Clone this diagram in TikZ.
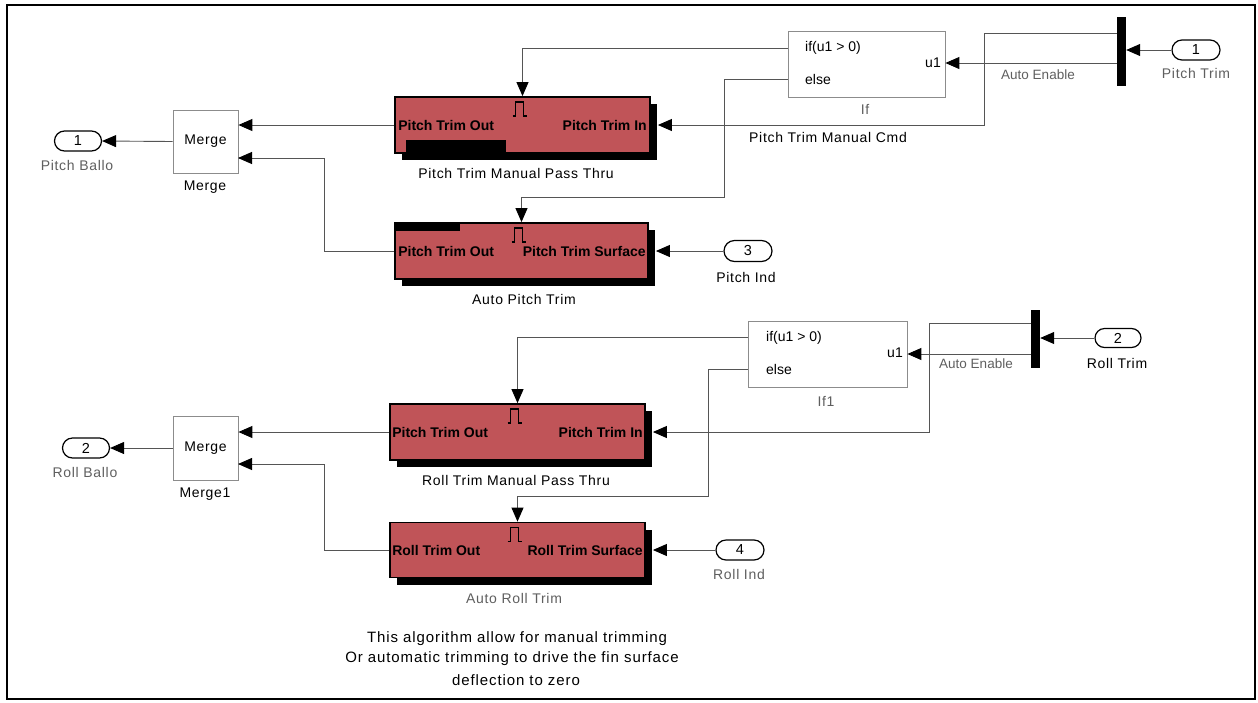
\documentclass[tikz,border=0pt]{standalone}
\usepackage{fontspec}
\setmainfont{Liberation Sans}
\newfontfamily\labfont[LetterSpace=5]{Liberation Sans}
\newfontfamily\comfont[LetterSpace=6]{Liberation Sans}
\usetikzlibrary{arrows.meta,shapes.misc,shadows,calc}
\definecolor{blkred}{RGB}{192,84,88}
\definecolor{wirec}{RGB}{85,85,85}
\definecolor{labgray}{RGB}{95,95,95}
\begin{document}
\begin{tikzpicture}[x=1pt,y=-1pt,
  conn/.style={draw=wirec, line width=0.9pt, -{Triangle[length=14pt,width=12pt,black]}},
  redblk/.style={draw=black, line width=1.8pt, fill=blkred, inner sep=0pt,
    drop shadow={shadow xshift=7pt, shadow yshift=-7pt, opacity=1, fill=black}},
  graybox/.style={draw=black!45, line width=0.8pt, fill=white, inner sep=0pt},
  port/.style={rounded rectangle, draw=black, line width=1.2pt, fill=white, inner sep=0pt,
    minimum width=48pt, minimum height=20pt, font=\fontsize{14.5}{16}\selectfont},
  bar/.style={fill=black, inner sep=0pt, minimum width=9pt},
  lab/.style={font=\labfont\fontsize{14}{16}\selectfont, inner sep=0pt},
  glab/.style={lab, text=labgray},
  intxt/.style={font=\bfseries\fontsize{14}{15}\selectfont, inner sep=0pt},
  iftxt/.style={font=\fontsize{14}{15}\selectfont, inner sep=0pt},
  aelab/.style={font=\fontsize{13.5}{15}\selectfont, inner sep=0pt, text=labgray},
  comlab/.style={font=\comfont\fontsize{15}{17}\selectfont, inner sep=0pt},
  pulse/.style={draw=black, line width=1.6pt}
]
\useasboundingbox (0,0) rectangle (1258,702);
\fill[white] (0,0) rectangle (1258,702);
\draw[line width=1.8pt] (7,5) rectangle (1255,699);

% ---------- upper (pitch) ----------
\node[redblk, minimum width=255pt, minimum height=56pt] (ptm) at (522.5,125) {};
\node[redblk, minimum width=253pt, minimum height=56pt] (apt) at (521.5,251) {};
\fill[black] (406,140) rectangle (506,158);
\fill[black] (396,222) rectangle (460,231);

\node[intxt, anchor=west] (ptmo) at ([xshift=4pt]ptm.west) {Pitch Trim Out};
\node[intxt, anchor=east] (ptmi) at ([xshift=-4pt]ptm.east) {Pitch Trim In};
\node[intxt, anchor=west] (apto) at ([xshift=4pt]apt.west) {Pitch Trim Out};
\node[intxt, anchor=east] (apti) at ([xshift=-3pt]apt.east) {Pitch Trim Surface};
\draw[pulse] ([shift={(-10,20)}]ptm.north) -- ++(3,0) -- ++(0,-14) -- ++(8,0) -- ++(0,14) -- ++(3,0);
\draw[pulse] ([shift={(-10,20)}]apt.north) -- ++(3,0) -- ++(0,-14) -- ++(8,0) -- ++(0,14) -- ++(3,0);

\node[graybox, minimum width=65pt, minimum height=63pt, font=\labfont\fontsize{14}{16}\selectfont] (m1) at (205.5,141.5) {Merge};
\node[graybox, minimum width=157pt, minimum height=66pt] (if) at (866.5,64) {};
\node[iftxt, anchor=west] (if1t) at (805,48) {if(u1 > 0)};
\node[iftxt, anchor=west] (if2t) at (805,79) {else};
\node[iftxt, anchor=east] (ifu) at (941,63) {u1};

\node[bar, minimum height=69pt] (bar1) at (1121.5,51.5) {};
\node[port] (pt) at (1196,50) {1};
\node[port, minimum height=21pt] (pi) at (748,251) {3};
\node[port, minimum width=47pt] (pb) at (78,141) {1};

\coordinate (ptmin) at ([xshift=7pt]ptm.east);
\coordinate (aptin) at ([xshift=7pt]apt.east);
\coordinate (b1a) at (1117,33);
\coordinate (b1b) at (1117,63);
\coordinate (ifA) at (788,48);
\coordinate (ifB) at (788,79);
\coordinate (m1b) at (238,158);

\draw[conn] (pt.west) -- (pt.west -| bar1.east);
\draw[conn] (b1a) -- ++(-133,0) |- (ptmin);
\draw[conn] (b1b) -- (b1b -| if.east);
\draw[conn] (ifA) -| (ptm.north);
\draw[conn] (ifB) -- ++(-64,0) -- ++(0,118) -| (apt.north);
\draw[conn] (ptm.west) -- (ptm.west -| m1.east);
\draw[conn] (apt.west) -- ++(-70,0) |- (m1b);
\draw[conn] (m1.west) -- (pb.east);
\draw[conn] (pi.west) -- (aptin);

\node[lab] (lptm) at (516,173) {Pitch Trim Manual Pass Thru};
\node[lab] (lapt) at (524,299) {Auto Pitch Trim};
\node[lab] (lcmd) at (828,137) {Pitch Trim Manual Cmd};
\node[glab] (lif) at (865,109) {If};
\node[aelab] (lae1) at (1038,75) {Auto Enable};
\node[glab] (lpt) at (1196,73) {Pitch Trim};
\node[lab] (lpi) at (746,277) {Pitch Ind};
\node[glab] (lpb) at (77,165) {Pitch Ballo};
\node[lab] (lm1) at (205,187) {Merge};

% ---------- lower (roll) ----------
\node[redblk, minimum width=255pt, minimum height=56pt] (rtm) at (517.5,432) {};
\node[redblk, minimum width=255pt, minimum height=55pt] (art) at (517.5,550) {};
\node[intxt, anchor=west] (rtmo) at ([xshift=3pt]rtm.west) {Pitch Trim Out};
\node[intxt, anchor=east] (rtmi) at ([xshift=-3pt]rtm.east) {Pitch Trim In};
\node[intxt, anchor=west] (arto) at ([xshift=3pt]art.west) {Roll Trim Out};
\node[intxt, anchor=east] (arti) at ([xshift=-3pt]art.east) {Roll Trim Surface};
\draw[pulse] ([shift={(-10,20)}]rtm.north) -- ++(3,0) -- ++(0,-14) -- ++(8,0) -- ++(0,14) -- ++(3,0);
\draw[pulse] ([shift={(-10,20)}]art.north) -- ++(3,0) -- ++(0,-14) -- ++(8,0) -- ++(0,14) -- ++(3,0);

\node[graybox, minimum width=65pt, minimum height=64pt, font=\labfont\fontsize{14}{16}\selectfont] (m2) at (205.5,448) {Merge};
\node[graybox, minimum width=159pt, minimum height=66pt] (if1) at (827.5,354) {};
\node[iftxt, anchor=west] (if1a) at (766,338) {if(u1 > 0)};
\node[iftxt, anchor=west] (if1b) at (766,369) {else};
\node[iftxt, anchor=east] (if1u) at (903,353) {u1};

\node[bar, minimum height=58pt] (bar2) at (1035.5,339) {};
\node[port, minimum width=46pt, minimum height=19pt] (rt) at (1118,338) {2};
\node[port] (ri) at (740,550) {4};
\node[port, minimum width=47pt] (rb) at (86,448) {2};

\coordinate (rtmin) at ([xshift=7pt]rtm.east);
\coordinate (artin) at ([xshift=7pt]art.east);
\coordinate (b2a) at (1031,323);
\coordinate (b2b) at (1031,354);
\coordinate (ifA1) at (748,337);
\coordinate (ifB1) at (748,369);
\coordinate (m2b) at (238,464);

\draw[conn] (rt.west) -- (rt.west -| bar2.east);
\draw[conn] (b2a) -- ++(-102,0) |- (rtmin);
\draw[conn] (b2b) -- (b2b -| if1.east);
\draw[conn] (ifA1) -| (rtm.north);
\draw[conn] (ifB1) -- ++(-40,0) -- ++(0,127) -| (art.north);
\draw[conn] (rtm.west) -- (rtm.west -| m2.east);
\draw[conn] (art.west) -- ++(-65,0) |- (m2b);
\draw[conn] (m2.west) -- (rb.east);
\draw[conn] (ri.west) -- (artin);

\node[lab] (lrtm) at (516,480) {Roll Trim Manual Pass Thru};
\node[glab] (lart) at (514,598) {Auto Roll Trim};
\node[glab] (lif1) at (826,401) {If1};
\node[aelab] (lae2) at (976,364) {Auto Enable};
\node[lab] (lrt) at (1117,363) {Roll Trim};
\node[glab] (lri) at (739,574) {Roll Ind};
\node[glab] (lrb) at (85,472) {Roll Ballo};
\node[lab] (lm2) at (205,494) {Merge1};

% ---------- comment ----------
\node[comlab] (c1) at (517,639) {This algorithm allow for manual trimming};
\node[comlab] (c2) at (512,659) {Or automatic trimming to drive the fin surface};
\node[comlab] (c3) at (516,680) {deflection to zero};
\end{tikzpicture}
\end{document}
